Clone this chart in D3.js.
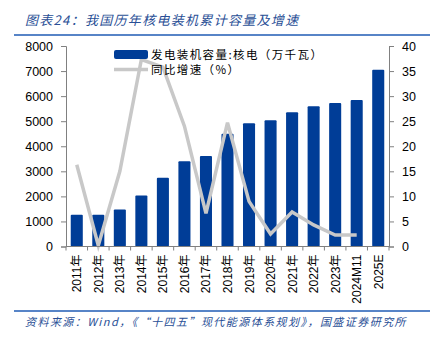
<!DOCTYPE html>
<html><head><meta charset="utf-8">
<script src="https://cdn.jsdelivr.net/npm/d3@7"></script>
<style>body{margin:0;background:#fff;}svg{display:block;}</style>
</head><body>
<script>
const categories = ["2011年","2012年","2013年","2014年","2015年","2016年","2017年","2018年","2019年","2020年","2021年","2022年","2023年","2024M11","2025E"];
const capacity = [1270,1270,1480,2030,2740,3400,3610,4500,4920,5040,5360,5600,5730,5850,7050];
const growth = [16.3,0.2,15,37.3,35.8,24,6.6,24.7,9,2.5,6.9,4.3,2.3,2.3,null];
const leftTicks = [0,1000,2000,3000,4000,5000,6000,7000,8000];
const rightTicks = [0,5,10,15,20,25,30,35,40];
const titleText = "图表24：我国历年核电装机累计容量及增速";
const sourceText = "资料来源：Wind，《“十四五”现代能源体系规划》，国盛证券研究所";
const legendLabels = ["发电装机容量:核电（万千瓦）","同比增速（%）"];

const W=438,H=342;
const svg=d3.select("body").append("svg").attr("width",W).attr("height",H);
const blue="#003d97", gray="#c8c8c8", axisC="#808080";
const font="Arial, 'Liberation Sans', 'Noto Sans CJK SC', sans-serif";
const cjk="'Noto Sans CJK SC', sans-serif";

const x0=66,x1=389,yTop=46,yBot=246.5;
const x=d3.scaleBand().domain(categories).range([x0,x1]).paddingInner(0.44).paddingOuter(0.22);
const yL=d3.scaleLinear().domain([0,8000]).range([yBot,yTop]);
const yR=d3.scaleLinear().domain([0,40]).range([yBot,yTop]);

// title
svg.append("text").attr("x",25).attr("y",25).attr("font-family",cjk).attr("font-style","italic")
  .attr("font-size",13).attr("letter-spacing",1.3).attr("fill","#2a4f96").text(titleText);
svg.append("line").attr("x1",14).attr("x2",430).attr("y1",35).attr("y2",35).attr("stroke","#1f5bb5").attr("stroke-width",1.5);
svg.append("line").attr("x1",14).attr("x2",430).attr("y1",311).attr("y2",311).attr("stroke","#1f5bb5").attr("stroke-width",1.5);
svg.append("text").attr("x",25).attr("y",326).attr("font-family",cjk).attr("font-style","italic")
  .attr("font-size",11).attr("letter-spacing",1.45).attr("fill","#2a4f96").text(sourceText);

// bars
svg.append("g").selectAll("rect").data(capacity).join("rect")
  .attr("x",(d,i)=>x(categories[i])).attr("width",x.bandwidth())
  .attr("y",d=>yL(d)).attr("height",d=>yBot-yL(d)).attr("fill",blue).attr("rx",1);

// line
const pts=growth.map((g,i)=>[x(categories[i])+x.bandwidth()/2,g]).filter(p=>p[1]!=null);
svg.append("path").datum(pts).attr("d",d3.line().x(p=>p[0]).y(p=>yR(p[1])))
  .attr("fill","none").attr("stroke",gray).attr("stroke-width",3.5).attr("stroke-linejoin","miter");

// axes
const gl=svg.append("g").attr("transform",`translate(${x0},0)`).call(d3.axisLeft(yL).tickValues(leftTicks).tickSize(5).tickPadding(8).tickFormat(d3.format("d")));
const gr=svg.append("g").attr("transform",`translate(${x1},0)`).call(d3.axisRight(yR).tickValues(rightTicks).tickSize(5).tickPadding(8));
[gl,gr].forEach(g=>{g.select(".domain").attr("stroke",axisC);g.selectAll(".tick line").attr("stroke",axisC);
  g.selectAll("text").attr("font-family",font).attr("font-size",12.5).attr("fill","#000");});

const gx=svg.append("g").attr("transform",`translate(0,${yBot})`);
gx.append("line").attr("x1",x0).attr("x2",x1).attr("stroke",axisC);
const bounds=d3.range(categories.length+1).map(i=>x0+(x1-x0)*i/categories.length);
gx.selectAll(".bt").data(bounds).join("line").attr("x1",d=>d).attr("x2",d=>d).attr("y1",0).attr("y2",4).attr("stroke",axisC);
gx.selectAll("text").data(categories).join("text")
  .attr("transform",d=>`translate(${x(d)+x.bandwidth()/2+4.5},8) rotate(-90)`)
  .attr("text-anchor","end").attr("font-family",font).attr("font-size",12).attr("fill","#000").text(d=>d);

// legend
svg.append("rect").attr("x",114).attr("y",50).attr("width",34).attr("height",9).attr("rx",2).attr("fill",blue);
svg.append("line").attr("x1",114).attr("x2",148).attr("y1",69.5).attr("y2",69.5).attr("stroke",gray).attr("stroke-width",3.5);
svg.append("text").attr("x",151).attr("y",59).attr("font-family",cjk).attr("font-size",11.5).attr("letter-spacing",1.4).attr("fill","#000").text(legendLabels[0]);
svg.append("text").attr("x",151).attr("y",73.5).attr("font-family",cjk).attr("font-size",11.5).attr("letter-spacing",1.4).attr("fill","#000").text(legendLabels[1]);
</script>
</body></html>
